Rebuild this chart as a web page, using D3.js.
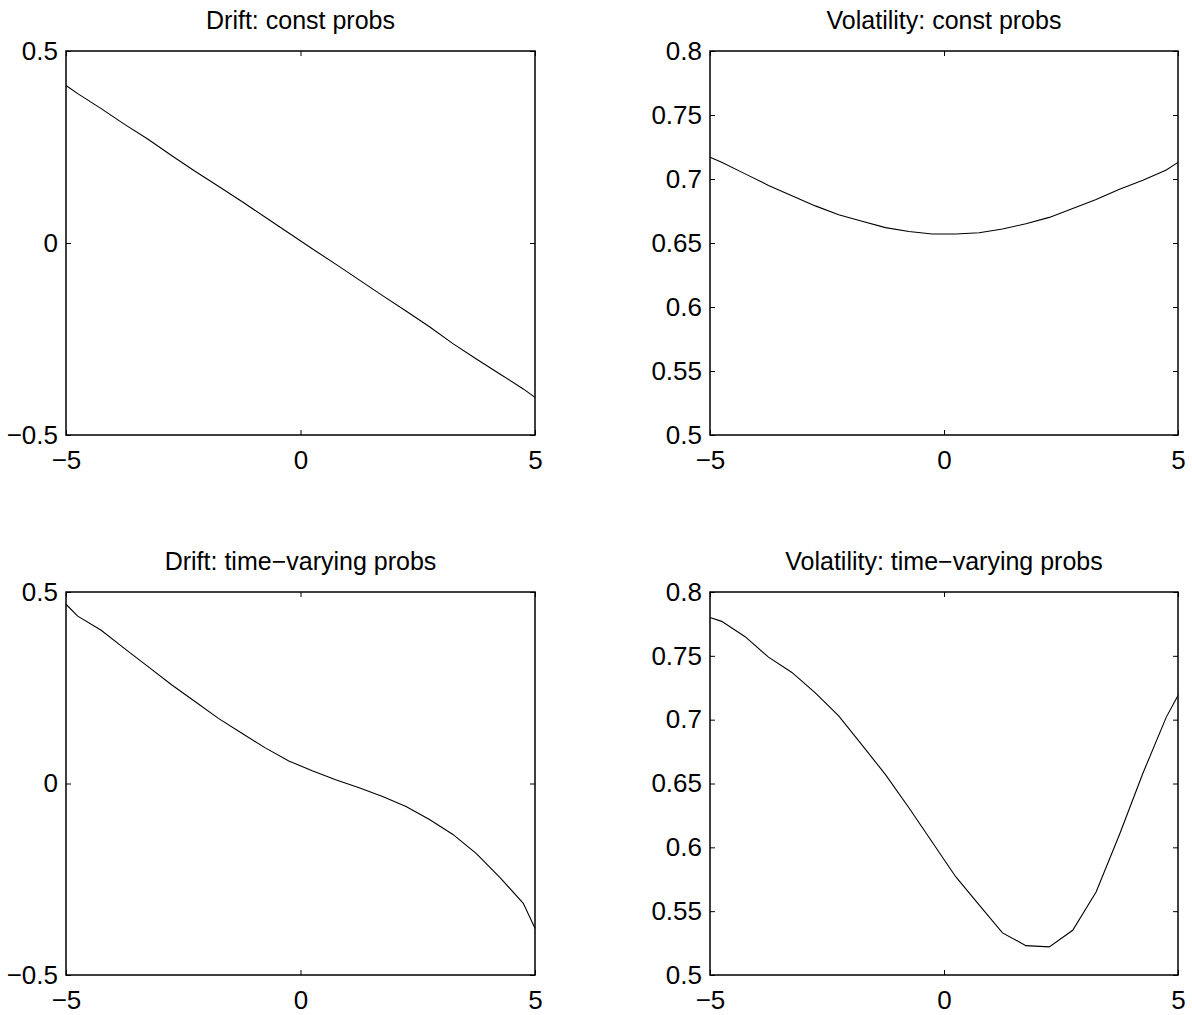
<!DOCTYPE html>
<html><head><meta charset="utf-8">
<script src="https://cdn.jsdelivr.net/npm/d3@7"></script>
<style>body{margin:0;background:#fff;} text{font-family:"Liberation Sans",Arial,Helvetica,sans-serif;fill:#000;}</style>
</head><body><svg id="c" width="1192" height="1015"></svg>
<script>
const xGrid = [-5,-4.75,-4.25,-3.75,-3.25,-2.75,-2.25,-1.75,-1.25,-0.75,-0.25,0.25,0.75,1.25,1.75,2.25,2.75,3.25,3.75,4.25,4.75,5];
const driftConst = [0.410,0.389,0.350,0.309,0.270,0.228,0.187,0.148,0.108,0.067,0.026,-0.015,-0.055,-0.096,-0.137,-0.177,-0.218,-0.262,-0.302,-0.341,-0.380,-0.402];
const volConst = [0.717,0.713,0.704,0.695,0.687,0.679,0.672,0.667,0.662,0.659,0.657,0.657,0.658,0.661,0.665,0.670,0.677,0.684,0.692,0.699,0.707,0.713];
const driftTV = [0.468,0.437,0.400,0.352,0.305,0.258,0.214,0.170,0.131,0.093,0.059,0.033,0.010,-0.011,-0.034,-0.060,-0.094,-0.133,-0.183,-0.245,-0.313,-0.378];
const volTV = [0.780,0.777,0.765,0.749,0.737,0.721,0.703,0.680,0.657,0.631,0.604,0.577,0.555,0.533,0.523,0.522,0.535,0.565,0.610,0.658,0.702,0.719];
const xTicks = [-5,0,5];
const driftTicks = [-0.5,0,0.5];
const volTicks = [0.5,0.55,0.6,0.65,0.7,0.75,0.8];
const titles = ["Drift: const probs","Volatility: const probs","Drift: time\u2212varying probs","Volatility: time\u2212varying probs"];

const panels = [
  {title:titles[0], y:driftConst, dom:[-0.5,0.5], ticks:driftTicks, x0:66, x1:535, y0:51, y1:435},
  {title:titles[1], y:volConst, dom:[0.5,0.8], ticks:volTicks, x0:710, x1:1178, y0:51, y1:435},
  {title:titles[2], y:driftTV, dom:[-0.5,0.5], ticks:driftTicks, x0:66, x1:535, y0:592, y1:975},
  {title:titles[3], y:volTV, dom:[0.5,0.8], ticks:volTicks, x0:710, x1:1178, y0:592, y1:975}
];
const svg = d3.select("#c");
const fmt = v => (v<0?"\u2212":"") + String(Math.abs(v));
const FS = 25, TFS = 26;
panels.forEach(p=>{
  const x = d3.scaleLinear().domain([-5,5]).range([p.x0,p.x1]);
  const y = d3.scaleLinear().domain(p.dom).range([p.y1,p.y0]);
  const g = svg.append("g");
  const tl = 5;
  const axB = d3.axisBottom(x).tickValues(xTicks).tickSize(-tl).tickFormat(fmt).tickPadding(16);
  const axT = d3.axisTop(x).tickValues(xTicks).tickSize(-tl).tickFormat("");
  const axL = d3.axisLeft(y).tickValues(p.ticks).tickSize(-tl).tickFormat(fmt).tickPadding(8);
  const axR = d3.axisRight(y).tickValues(p.ticks).tickSize(-tl).tickFormat("");
  [[axB,`translate(0,${p.y1})`],[axT,`translate(0,${p.y0})`],[axL,`translate(${p.x0},0)`],[axR,`translate(${p.x1},0)`]].forEach(([ax,tr])=>{
    const a = g.append("g").attr("transform",tr).call(ax);
    a.select(".domain").remove();
    a.selectAll("line").attr("stroke","#000").attr("stroke-width",1);
    a.selectAll("text").attr("font-size",TFS).attr("font-family","Liberation Sans, Arial, sans-serif").attr("fill","#000");
  });
  g.append("rect").attr("x",p.x0).attr("y",p.y0).attr("width",p.x1-p.x0).attr("height",p.y1-p.y0)
    .attr("fill","none").attr("stroke","#000").attr("stroke-width",1.5);
  g.append("path").datum(p.y.map((v,i)=>[xGrid[i],v]))
    .attr("d", d3.line().x(d=>x(d[0])).y(d=>y(d[1])))
    .attr("fill","none").attr("stroke","#000").attr("stroke-width",1.1);
  g.append("text").attr("x",(p.x0+p.x1)/2).attr("y",p.y0-22).attr("text-anchor","middle")
    .attr("font-size",FS).text(p.title);
});
</script></body></html>
